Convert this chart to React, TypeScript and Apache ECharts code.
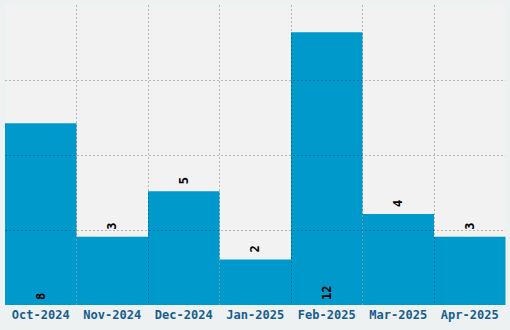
import React, { useEffect, useRef } from "react";
import * as echarts from "echarts";

const categories = ["Oct-2024", "Nov-2024", "Dec-2024", "Jan-2025", "Feb-2025", "Mar-2025", "Apr-2025"];
const values = [8, 3, 5, 2, 12, 4, 3];
const labelInside = [true, false, false, false, true, false, false];

export default function App() {
  const ref = useRef<HTMLDivElement>(null);
  useEffect(() => {
    document.body.style.margin = "0";
    const chart = echarts.init(ref.current!, null, { renderer: "svg" });
    const font = "'DejaVu Sans Mono', monospace";
    const lineStyle = { color: "rgba(0,0,0,0.24)", type: [2, 2] as any, width: 1 };
    chart.setOption({
      animation: false,
      backgroundColor: "#eef1f2",
      grid: { left: 5, right: 4.5, top: 5, bottom: 25, show: true, backgroundColor: "#f2f2f2", borderWidth: 0 },
      xAxis: {
        type: "category",
        data: categories,
        z: 5,
        axisLine: { show: false },
        axisTick: { show: false, interval: 0 },
        splitLine: { show: true, interval: 0, showMinLine: false, showMaxLine: false, lineStyle },
        axisLabel: { interval: 0, color: "#175e8e", fontFamily: font, fontWeight: "bold", fontSize: 12, margin: 4 },
      },
      yAxis: {
        type: "value",
        min: 0,
        max: 13.2,
        interval: 3.3,
        z: 5,
        axisLine: { show: false },
        axisTick: { show: false },
        axisLabel: { show: false },
        splitLine: { show: true, showMinLine: false, showMaxLine: false, lineStyle },
      },
      series: [
        {
          type: "bar",
          barCategoryGap: 0,
          barWidth: "100%",
          itemStyle: { color: "#0099cc", borderWidth: 0 },
          data: values.map((v, i) => ({
            value: v,
            label: {
              show: true,
              position: labelInside[i] ? "insideBottom" : "top",
              distance: labelInside[i] ? 5 : 7,
              rotate: 90,
              align: "left",
              verticalAlign: "middle",
              color: "#000",
              fontFamily: font,
              fontWeight: "bold",
              fontSize: 12,
            },
          })),
        },
      ],
    });
    return () => chart.dispose();
  }, []);
  return <div ref={ref} style={{ width: 510, height: 330 }} />;
}
